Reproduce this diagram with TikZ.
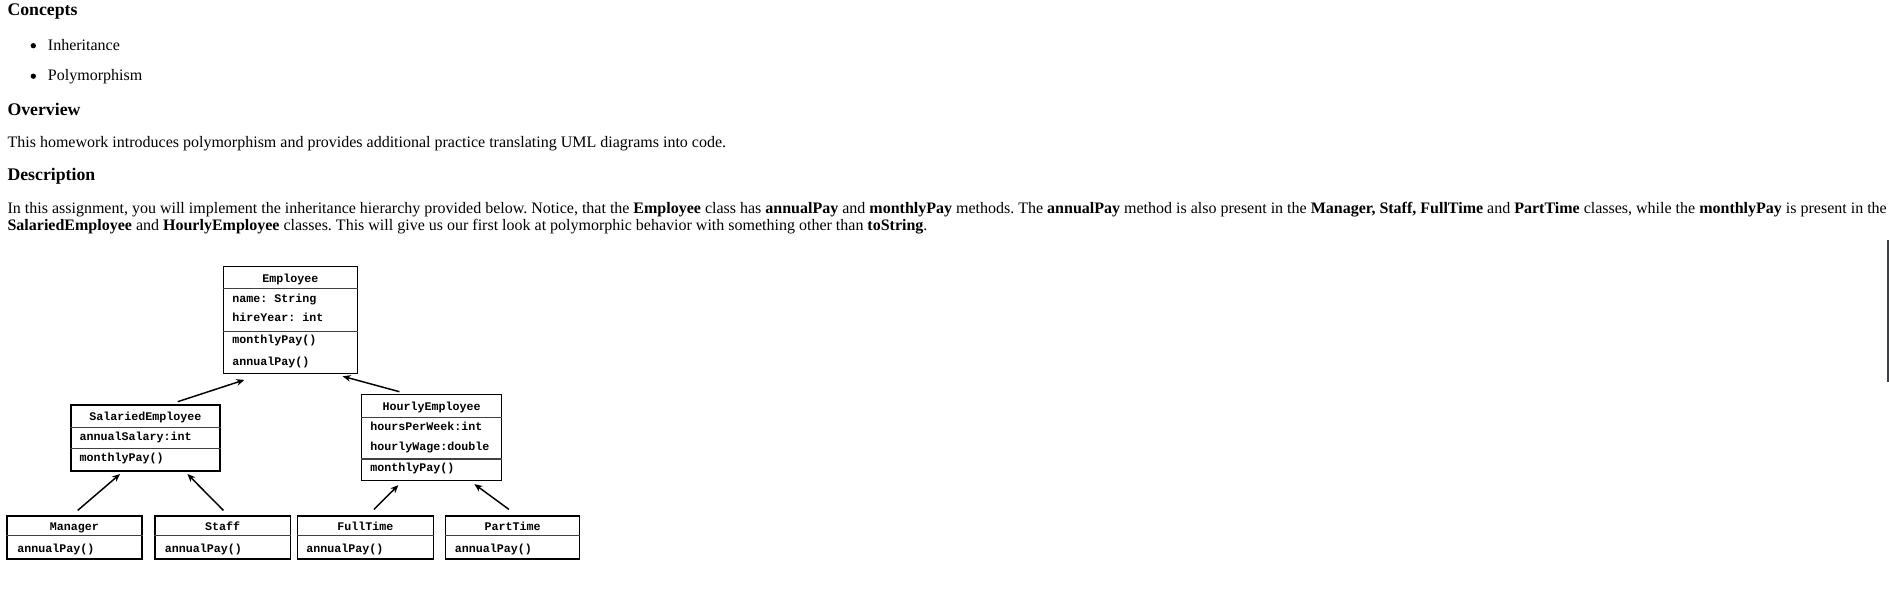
\documentclass[tikz,border=0pt]{standalone}
\usepackage{fontspec}
\setmainfont{Liberation Serif}
\newfontfamily\umlfont{Liberation Mono}
\usetikzlibrary{fit,calc,arrows.meta}
\definecolor{barcol}{RGB}{60,64,67}
\frenchspacing
\begin{document}
\begin{tikzpicture}[x=0.75pt,y=-0.75pt,
  txt/.style={anchor=base west,inner sep=0pt,font=\fontsize{12}{14}\selectfont},
  head/.style={anchor=base west,inner sep=0pt,font=\fontsize{13.3}{16}\selectfont\bfseries},
  umlbox/.style={draw=black,line width=0.9pt,inner sep=0pt},
  septr/.style={draw=black!75,line width=0.9pt},
  umlt/.style={anchor=base,inner sep=0pt,font=\umlfont\bfseries\fontsize{8.75}{10}\selectfont},
  umll/.style={anchor=base west,inner sep=0pt,font=\umlfont\bfseries\fontsize{8.75}{10}\selectfont},
  inh/.style={line width=1.1pt,-{Stealth[length=6pt,width=5pt]}}
]
\useasboundingbox (0,0) rectangle (1889,589);

% ---------- text ----------
\node[head] (hconc) at (7.3,15) {Concepts};
\fill (33.3,45.7) circle (2pt);
\node[txt] (b1) at (47.7,50) {Inheritance};
\fill (33.3,76.2) circle (2pt);
\node[txt] (b2) at (47.7,80.5) {Polymorphism};
\node[head] (hover) at (7.3,115) {Overview};
\node[txt] (pover) at (7.3,147.3) {This homework introduces polymorphism and provides additional practice translating UML diagrams into code.};
\node[head] (hdesc) at (7.3,180) {Description};
\node[txt] (l1) at (7.3,213.3) {In this assignment, you will implement the inheritance hierarchy provided below. Notice, that the \textbf{Employee} class has \textbf{annualPay} and \textbf{monthlyPay} methods. The \textbf{annualPay} method is also present in the \textbf{Manager, Staff, FullTime} and \textbf{PartTime} classes, while the \textbf{monthlyPay} is present in the};
\node[txt] (l2) at (7.3,230) {\textbf{SalariedEmployee} and \textbf{HourlyEmployee} classes. This will give us our first look at polymorphic behavior with something other than \textbf{toString}.};

% scrollbar remnant
\fill[barcol] (1886.8,240) rectangle (1889,382);

% ---------- UML boxes ----------
\node[umlbox,fit={(223.3,266.7) (357.3,373.3)}] (emp) {};
\draw[septr] (emp.west |- 0,288.3) -- (emp.east |- 0,288.3);
\draw[septr] (emp.west |- 0,331.7) -- (emp.east |- 0,331.7);
\node[umlt] (empT) at (290.3,282.5) {Employee};
\node[umll] (empA1) at (232,302.2) {name: String};
\node[umll] (empA2) at (232,321.8) {hireYear: int};
\node[umll] (empM1) at (232,343.5) {monthlyPay()};
\node[umll] (empM2) at (232,365.2) {annualPay()};

\node[umlbox,fit={(71,405) (220,471)}] (sal) {};
\draw[septr] (sal.west |- 0,427.7) -- (sal.east |- 0,427.7);
\draw[septr] (sal.west |- 0,448.3) -- (sal.east |- 0,448.3);
\node[umlt] (salT) at (145.5,420.2) {SalariedEmployee};
\node[umll] (salA1) at (79.3,440.2) {annualSalary:int};
\node[umll] (salM1) at (79.3,461.8) {monthlyPay()};

\node[umlbox,fit={(361.7,394.3) (501.7,480.7)}] (hour) {};
\draw[septr] (hour.west |- 0,417.3) -- (hour.east |- 0,417.3);
\draw[septr] (hour.west |- 0,459) -- (hour.east |- 0,459);
\node[umlt] (hourT) at (431.7,410.2) {HourlyEmployee};
\node[umll] (hourA1) at (370,430.2) {hoursPerWeek:int};
\node[umll] (hourA2) at (370,450.8) {hourlyWage:double};
\node[umll] (hourM1) at (370,471.8) {monthlyPay()};

\node[umlbox,fit={(7,516) (142,559)}] (man) {};
\draw[septr] (man.west |- 0,535.5) -- (man.east |- 0,535.5);
\node[umlt] (manT) at (74.5,530) {Manager};
\node[umll] (manM) at (17,552.5) {annualPay()};

\node[umlbox,fit={(155,516) (290.5,559)}] (staff) {};
\draw[septr] (staff.west |- 0,535.5) -- (staff.east |- 0,535.5);
\node[umlt] (staffT) at (222.7,530) {Staff};
\node[umll] (staffM) at (164.5,552.5) {annualPay()};

\node[umlbox,fit={(297.5,516) (433.5,559)}] (full) {};
\draw[septr] (full.west |- 0,535.5) -- (full.east |- 0,535.5);
\node[umlt] (fullT) at (365.5,530) {FullTime};
\node[umll] (fullM) at (306,552.5) {annualPay()};

\node[umlbox,fit={(445.7,516) (579.7,559)}] (part) {};
\draw[septr] (part.west |- 0,535.5) -- (part.east |- 0,535.5);
\node[umlt] (partT) at (512.7,530) {PartTime};
\node[umll] (partM) at (454.7,552.5) {annualPay()};

% ---------- arrow end points ----------
\coordinate (salTop) at ($(sal.north west)+(107.3,-2.7)$);
\coordinate (empBotL) at ($(emp.south west)+(21.7,6)$);
\coordinate (hourTop) at ($(hour.north west)+(38.3,-2)$);
\coordinate (empBotR) at ($(emp.south west)+(120,2.4)$);
\coordinate (manTop) at ($(man.north west)+(71.3,-5)$);
\coordinate (salBotL) at ($(sal.south west)+(49.7,2.4)$);
\coordinate (staffTop) at ($(staff.north west)+(69,-5)$);
\coordinate (salBotR) at ($(sal.south west)+(117,2.4)$);
\coordinate (fullTop) at ($(full.north west)+(77,-6)$);
\coordinate (hourBotL) at ($(hour.south west)+(37.3,3.8)$);
\coordinate (partTop) at ($(part.north west)+(63.8,-6)$);
\coordinate (hourBotR) at ($(hour.south west)+(113.3,2.8)$);

\draw[inh] (salTop) -- (empBotL);
\draw[inh] (hourTop) -- (empBotR);
\draw[inh] (manTop) -- (salBotL);
\draw[inh] (staffTop) -- (salBotR);
\draw[inh] (fullTop) -- (hourBotL);
\draw[inh] (partTop) -- (hourBotR);
\end{tikzpicture}
\end{document}
